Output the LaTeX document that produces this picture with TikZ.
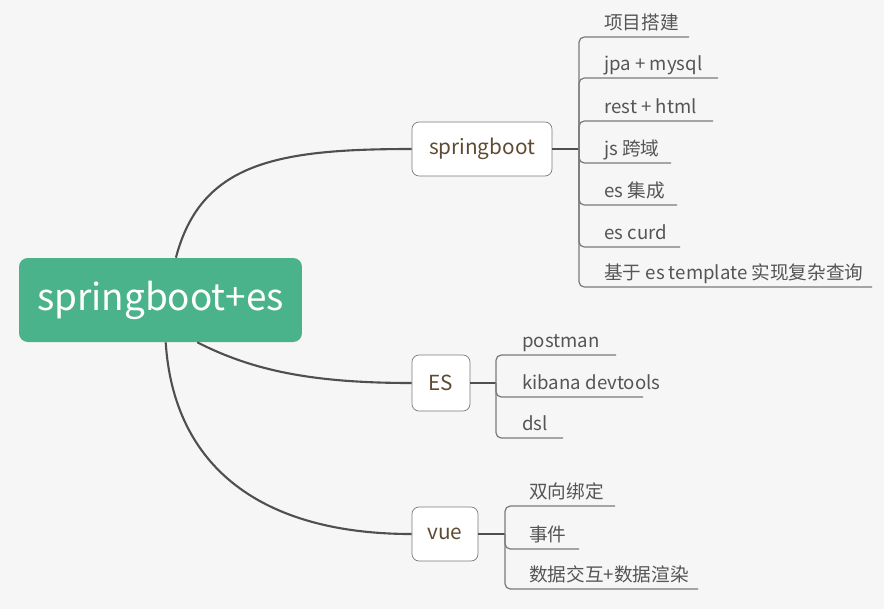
\documentclass[tikz,border=0pt]{standalone}
\usepackage{fontspec}
\setmainfont{Noto Sans CJK SC}
\usepackage{xcolor}
\usepackage{tikz}
\usetikzlibrary{positioning, calc}

\definecolor{paper}{HTML}{F6F6F6}
\definecolor{rootgreen}{HTML}{4BB38B}
\definecolor{boxtext}{HTML}{5E4B32}
\definecolor{leaftext}{HTML}{555555}
\definecolor{limbgray}{HTML}{4F4F4F}
\definecolor{twiggray}{HTML}{7A7A7A}

\tikzstyle{rootbox} = [fill=rootgreen, rounded corners=5pt, text=white, inner sep=0pt,
  minimum width=5.66cm, minimum height=1.68cm, font=\fontsize{21}{25}\selectfont]
\tikzstyle{topic} = [draw=twiggray, fill=white, rounded corners=4pt, text=boxtext,
  inner sep=0pt, minimum height=1.08cm, font=\fontsize{11.8}{14}\selectfont]
\tikzstyle{leaf} = [anchor=base west, inner sep=0pt, text=leaftext, font=\fontsize{10.6}{13}\selectfont]
\tikzstyle{limb} = [limbgray, line width=1.2pt]
\tikzstyle{stem} = [limbgray, line width=1.6pt]
\tikzstyle{twig} = [twiggray, line width=0.7pt, rounded corners=3pt]

\begin{document}
\begin{tikzpicture}[x=0.02cm, y=-0.02cm]
% Background
\fill[paper] (0,0) rectangle (884,609);

% Central topic
\node[rootbox] (root) at (160.5,300) {springboot+es};

% Main topics
\node[topic, minimum width=2.8cm] (sb) at (482,149) {springboot};
\node[topic, minimum width=1.16cm, minimum height=1.12cm] (es) at (441,383) {ES};
\node[topic, minimum width=1.32cm] (vue) at (445,534) {vue};

% Curves from the centre
\draw[limb] (root.70) .. controls +(25,-95) and +(-135,0) .. (sb.west);
\draw[limb] (root.-49) .. controls +(55,28) and +(-100,0) .. (es.west);
\draw[limb] (root.-83) .. controls +(8,125) and +(-150,0) .. (vue.west);

% Hubs
\coordinate (sbhub) at (579,149);
\coordinate (eshub) at (496,383);
\coordinate (vuehub) at (505,534);
\draw[stem] (sb.east) -- (sbhub);
\draw[limb] (es.east) -- (eshub);
\draw[limb] (vue.east) -- (vuehub);

% springboot leaves
\coordinate (sb1) at (689,37);
\coordinate (sb2) at (718,78);
\coordinate (sb3) at (713,121);
\coordinate (sb4) at (671,163);
\coordinate (sb5) at (677,205);
\coordinate (sb6) at (680,247);
\coordinate (sb7) at (872,287);
\node[leaf] (sbl1) at (604,29) {项目搭建};
\node[leaf] (sbl2) at (604,70) {jpa + mysql};
\node[leaf] (sbl3) at (604,113) {rest + html};
\node[leaf] (sbl4) at (604,155) {js 跨域};
\node[leaf] (sbl5) at (604,197) {es 集成};
\node[leaf] (sbl6) at (604,239) {es curd};
\node[leaf] (sbl7) at (604,279) {基于 es template 实现复杂查询};
\draw[twig] (sbhub) |- (sb1);
\draw[twig] (sbhub) |- (sb2);
\draw[twig] (sbhub) |- (sb3);
\draw[twig] (sbhub) |- (sb4);
\draw[twig] (sbhub) |- (sb5);
\draw[twig] (sbhub) |- (sb6);
\draw[twig] (sbhub) |- (sb7);

% ES leaves
\coordinate (es1) at (616,355);
\coordinate (es2) at (643,397);
\coordinate (es3) at (563,438);
\node[leaf] (esl1) at (522,347) {postman};
\node[leaf] (esl2) at (522,389) {kibana devtools};
\node[leaf] (esl3) at (522,430) {dsl};
\draw[twig] (eshub) |- (es1);
\draw[twig] (eshub) |- (es2);
\draw[twig] (eshub) |- (es3);

% vue leaves
\coordinate (vue1) at (615,506);
\coordinate (vue2) at (579,549);
\coordinate (vue3) at (698,589);
\node[leaf] (vuel1) at (529,498) {双向绑定};
\node[leaf] (vuel2) at (529,541) {事件};
\node[leaf] (vuel3) at (529,581) {数据交互+数据渲染};
\draw[twig] (vuehub) |- (vue1);
\draw[twig] (vuehub) |- (vue2);
\draw[twig] (vuehub) |- (vue3);
\end{tikzpicture}
\end{document}
